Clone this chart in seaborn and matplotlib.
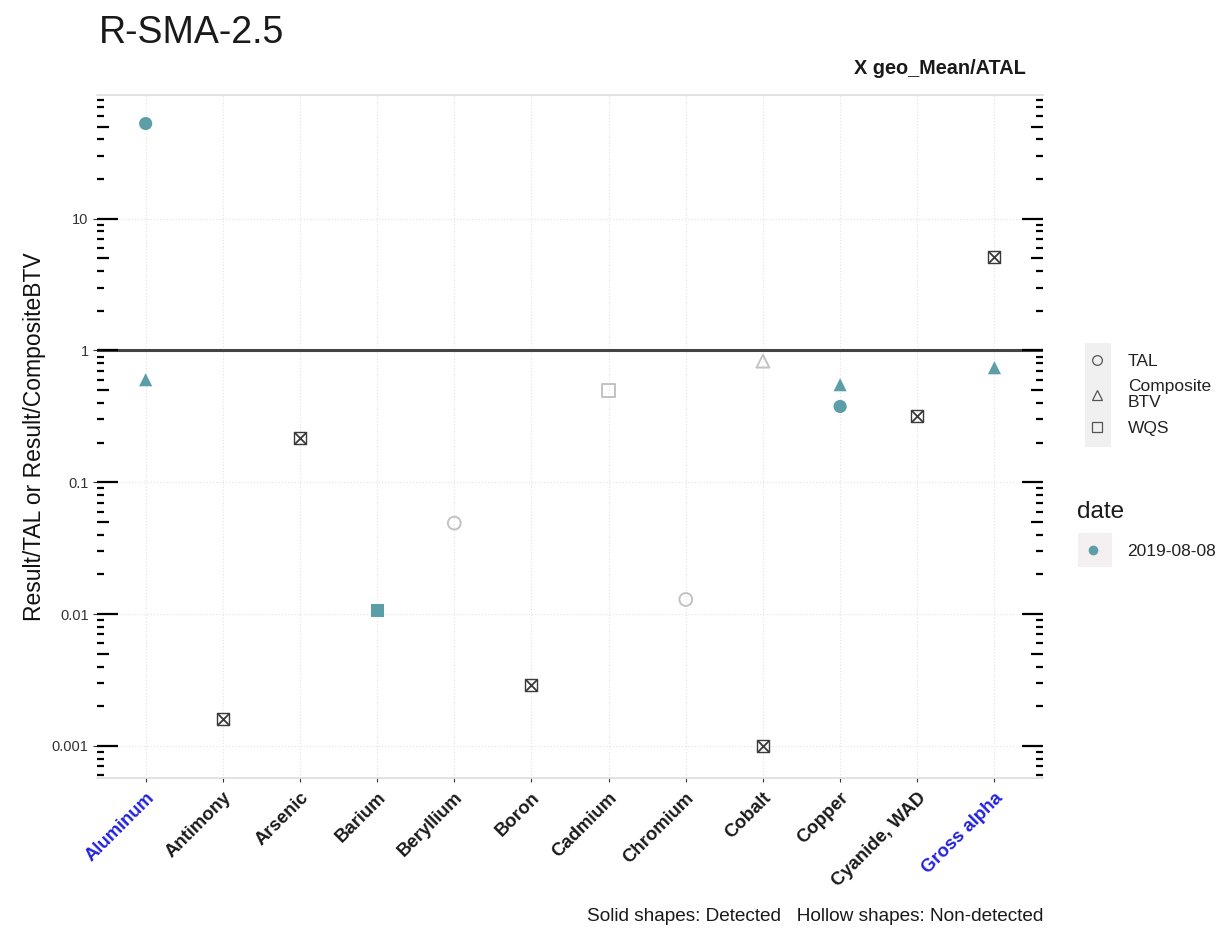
import numpy as np
import pandas as pd
import seaborn as sns
import matplotlib.pyplot as plt
from matplotlib.lines import Line2D
from matplotlib.patches import Rectangle
import matplotlib.transforms as mtransforms

sns.set_style('white')
plt.rcParams['font.family'] = ['Liberation Sans', 'DejaVu Sans']

# data
analytes = ['Aluminum', 'Antimony', 'Arsenic', 'Barium', 'Beryllium', 'Boron',
            'Cadmium', 'Chromium', 'Cobalt', 'Copper', 'Cyanide, WAD', 'Gross alpha']
blue_labels = ['Aluminum', 'Gross alpha']

# ratio points: analyte, comparison type, value, detected?
pt_analyte = ['Aluminum', 'Aluminum', 'Barium', 'Beryllium', 'Cadmium', 'Chromium',
              'Cobalt', 'Copper', 'Copper', 'Gross alpha']
pt_kind = ['TAL', 'Composite\nBTV', 'WQS', 'TAL', 'WQS', 'TAL',
           'Composite\nBTV', 'Composite\nBTV', 'TAL', 'Composite\nBTV']
pt_value = [52.7, 0.60, 0.0107, 0.049, 0.50, 0.0129, 0.83, 0.55, 0.376, 0.74]
pt_detected = [True, True, True, False, False, False, False, True, True, True]

# geo mean / ATAL points
geo_analyte = ['Antimony', 'Arsenic', 'Boron', 'Cobalt', 'Cyanide, WAD', 'Gross alpha']
geo_value = [0.0016, 0.218, 0.0029, 0.001, 0.32, 5.1]

teal = '#5b9ea8'
hollow = '#c2c2c2'
dark = '#3a3a3a'

xpos = {a: i for i, a in enumerate(analytes)}
df = pd.DataFrame({'analyte': pt_analyte, 'kind': pt_kind, 'ratio': pt_value,
                   'detected': pt_detected})
df['x'] = df['analyte'].map(xpos)
geo = pd.DataFrame({'analyte': geo_analyte, 'ratio': geo_value})
geo['x'] = geo['analyte'].map(xpos)

shape_map = {'TAL': 'o', 'Composite\nBTV': '^', 'WQS': 's'}

fig = plt.figure(figsize=(12.3, 9.3), dpi=100)
ax = fig.add_axes([0.0789, 0.1634, 0.7691, 0.7346])

# detected = solid
sns.scatterplot(data=df[df['detected']], x='x', y='ratio', style='kind', markers=shape_map,
                color=teal, s=90, edgecolor='none', legend=False, ax=ax, zorder=4)
# non-detected = hollow
sns.scatterplot(data=df[~df['detected']], x='x', y='ratio', style='kind', markers=shape_map,
                color=hollow, s=85, legend=False, ax=ax, zorder=4)
ax.collections[-1].set_facecolor('none')
ax.collections[-1].set_edgecolor(hollow)
ax.collections[-1].set_linewidth(1.4)

# geo mean: crossed square
sns.scatterplot(data=geo, x='x', y='ratio', marker='s', s=75, color=dark,
                legend=False, ax=ax, zorder=5)
ax.collections[-1].set_facecolor('none')
ax.collections[-1].set_edgecolor(dark)
ax.collections[-1].set_linewidth(1.0)
sns.scatterplot(data=geo, x='x', y='ratio', marker='x', s=75, color=dark,
                linewidth=1.3, legend=False, ax=ax, zorder=5)

ax.axhline(1, color='#444444', lw=2.2, zorder=3)

ax.set_yscale('log')
ax.set_ylim(0.00057, 87)
ax.set_xlim(-0.63, len(analytes) - 1 + 0.63)

# grid
for i in range(len(analytes)):
    ax.axvline(i, color='#e6e6e6', lw=0.9, ls=(0, (1, 1.5)), zorder=1)
for d in [0.001, 0.01, 0.1, 1, 10]:
    ax.axhline(d, color='#e6e6e6', lw=0.9, ls=(0, (1, 1.5)), zorder=1)

# log ticks on both sides (like annotation_logticks)
trans_l = mtransforms.blended_transform_factory(ax.transAxes, ax.transData)
for dec in [0.0001, 0.001, 0.01, 0.1, 1, 10]:
    for m in range(1, 10):
        v = dec * m
        if v < 0.00057 or v > 87:
            continue
        if m == 1:
            ln = 0.022
        elif m == 5:
            ln = 0.013
        else:
            ln = 0.007
        ax.plot([0, ln], [v, v], color='black', lw=1.6, transform=trans_l,
                clip_on=False, zorder=6, solid_capstyle='butt')
        ax.plot([1 - ln, 1], [v, v], color='black', lw=1.6, transform=trans_l,
                clip_on=False, zorder=6, solid_capstyle='butt')

ax.set_yticks([0.001, 0.01, 0.1, 1, 10])
ax.set_yticklabels(['0.001', '0.01', '0.1', '1', '10'])
ax.yaxis.set_minor_locator(plt.NullLocator())
ax.tick_params(axis='y', length=3, width=0.8, color='#333333', labelsize=10.5,
               labelcolor='#333333', pad=3, left=True)

ax.set_xticks(range(len(analytes)))
ax.set_xticklabels(analytes, rotation=45, ha='right', rotation_mode='anchor',
                   fontweight='bold', fontsize=13.3)
for lab in ax.get_xticklabels():
    lab.set_color('#2222dd' if lab.get_text() in blue_labels else '#1a1a1a')
ax.tick_params(axis='x', length=3, width=0.8, color='#333333', pad=5, bottom=True)

ax.set_xlabel('')
ax.set_ylabel('Result/TAL or Result/CompositeBTV', fontsize=16.5, color='#111111', labelpad=4)

for s in ['left', 'right']:
    ax.spines[s].set_visible(False)
for s in ['top', 'bottom']:
    ax.spines[s].set_color('#dddddd')
    ax.spines[s].set_linewidth(1.2)

fig.text(0.0805, 0.965, 'R-SMA-2.5', fontsize=27, va='center', ha='left', color='#1a1a1a')
fig.text(0.834, 0.926, 'X geo_Mean/ATAL', fontsize=14.3, fontweight='bold', ha='right',
         va='center', color='#1a1a1a')
fig.text(0.848, 0.014, 'Solid shapes: Detected   Hollow shapes: Non-detected',
         fontsize=13.7, ha='right', va='center', color='#1a1a1a')

# legend key backgrounds
fig.patches.append(Rectangle((1085 / 1230, 1 - 447 / 930), 26 / 1230, 104 / 930,
                             transform=fig.transFigure, facecolor='#f0f0f0',
                             edgecolor='none', zorder=0))
fig.patches.append(Rectangle((1078 / 1230, 1 - 567 / 930), 34 / 1230, 34 / 930,
                             transform=fig.transFigure, facecolor='#f4f0f2',
                             edgecolor='none', zorder=0))

shape_handles = [Line2D([], [], ls='none', marker=shape_map[k], markersize=7,
                        markerfacecolor='none', markeredgecolor='#555555', markeredgewidth=0.9)
                 for k in shape_map]
leg1 = fig.legend(shape_handles, list(shape_map.keys()), loc='upper left',
                  bbox_to_anchor=(1069 / 1230, 1 - 338 / 930), frameon=False, fontsize=12.5,
                  handlelength=1.4, handletextpad=1.08, labelspacing=0.6)
for t in leg1.get_texts():
    t.set_color('#222222')
    t.set_linespacing(1.08)

fig.text(1077 / 1230, 1 - 512 / 930, 'date', fontsize=17.5, ha='left', va='center',
         color='#1a1a1a')
date_handle = [Line2D([], [], ls='none', marker='o', markersize=7,
                      markerfacecolor=teal, markeredgecolor='none')]
leg2 = fig.legend(date_handle, ['2019-08-08'], loc='upper left',
                  bbox_to_anchor=(1061 / 1230, 1 - 528 / 930), frameon=False, fontsize=12.5,
                  handlelength=1.84, handletextpad=1.09)
for t in leg2.get_texts():
    t.set_color('#222222')

fig.savefig('out.png', dpi=100, facecolor='white')
